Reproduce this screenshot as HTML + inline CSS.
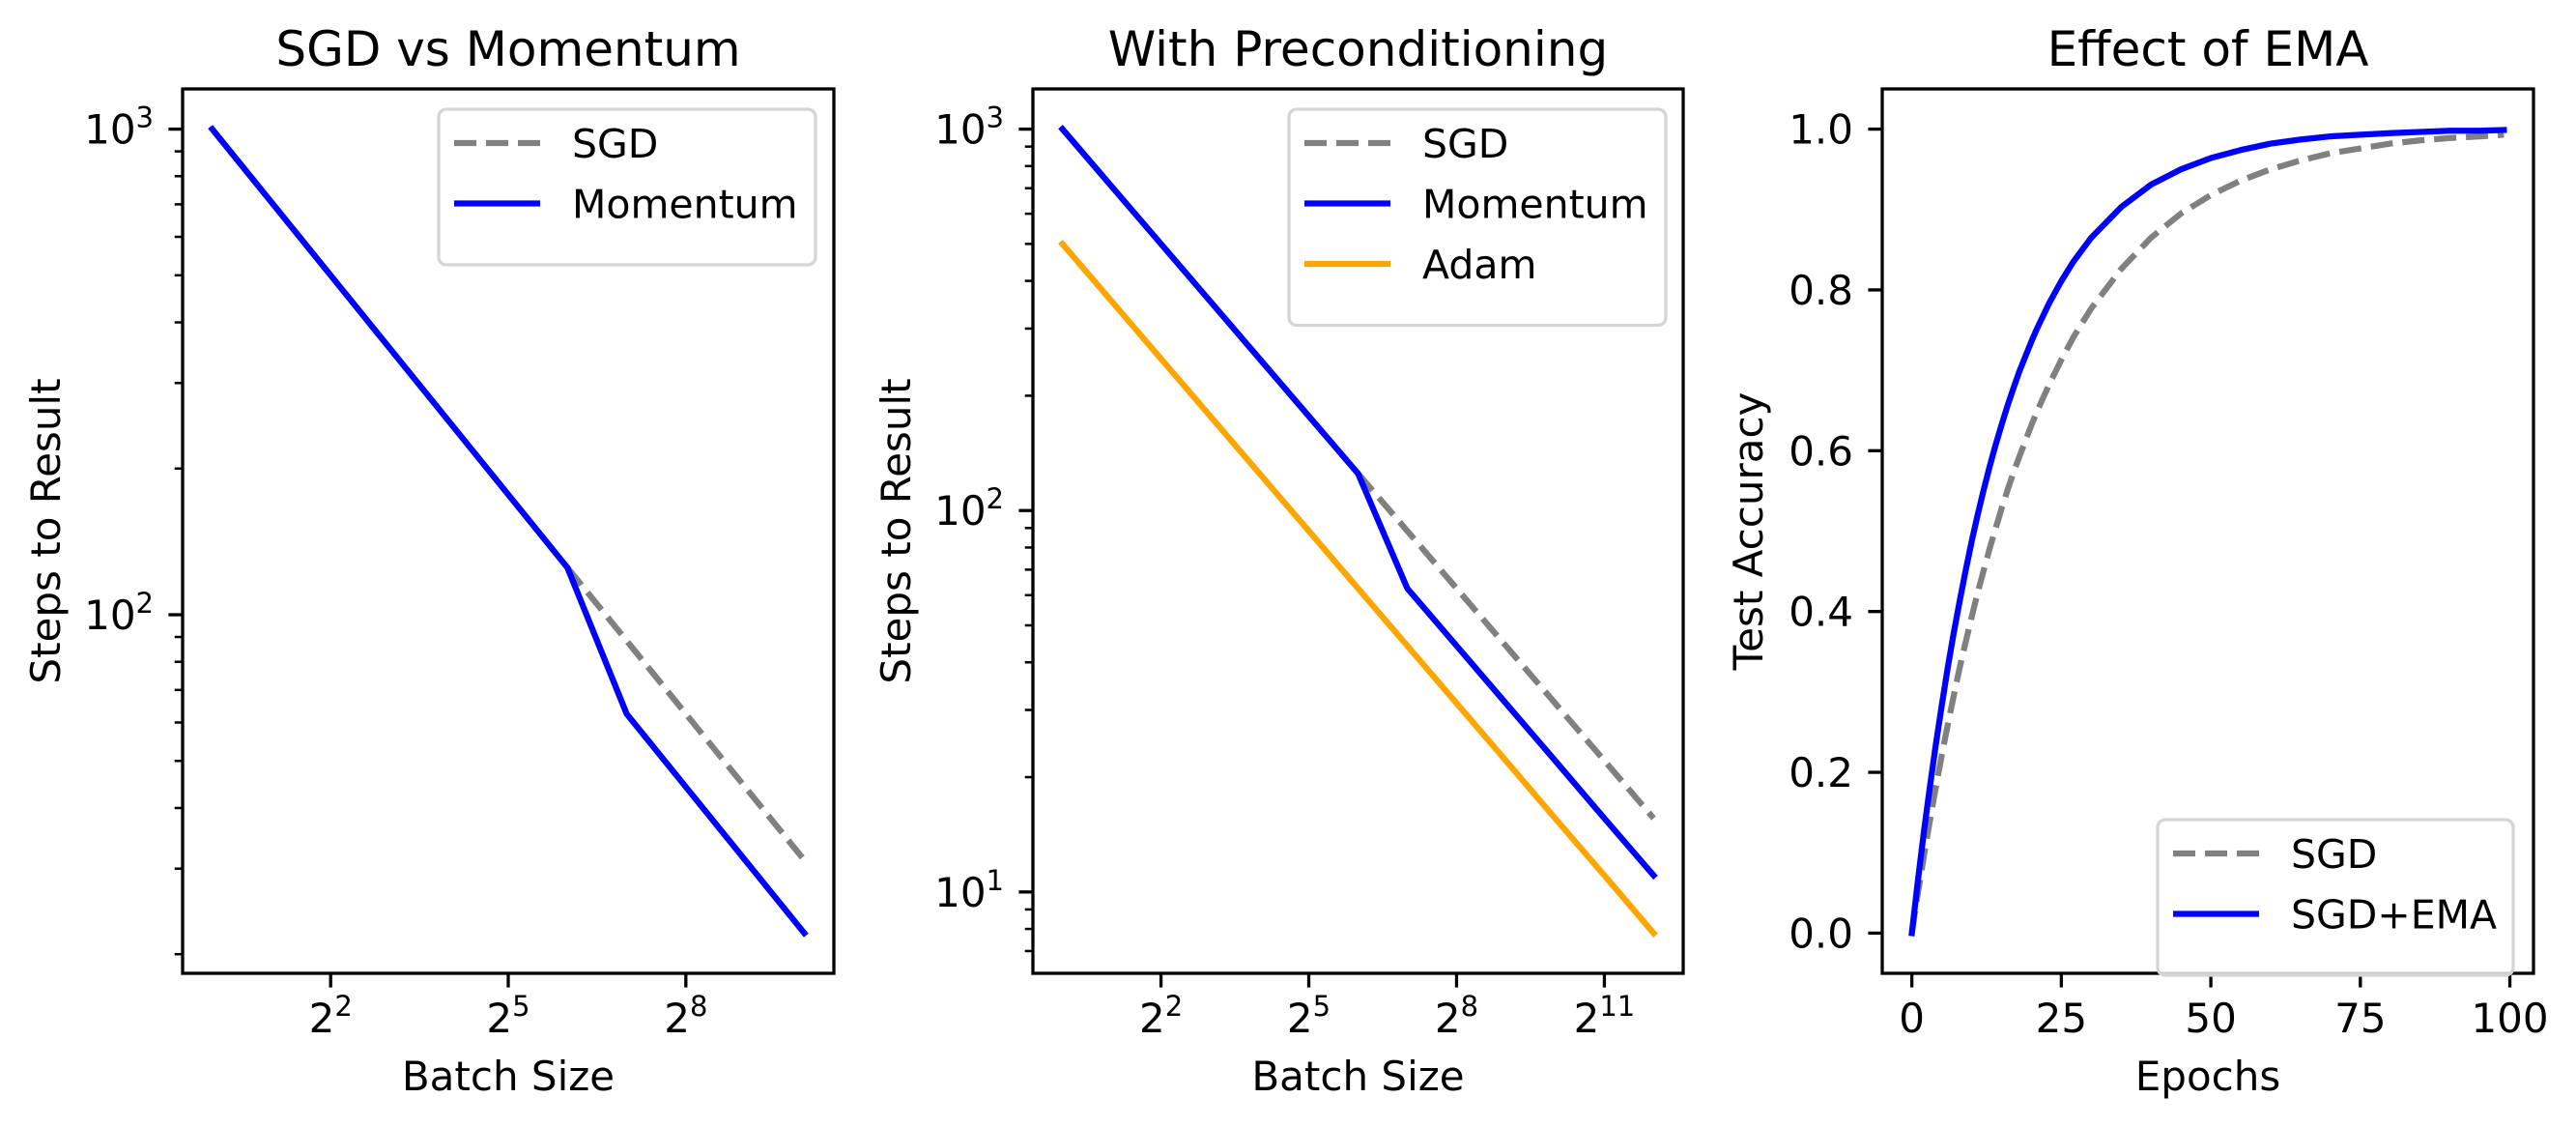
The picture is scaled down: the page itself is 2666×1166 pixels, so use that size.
<!DOCTYPE html>
<html><head><meta charset="utf-8"><style>
html,body{margin:0;padding:0;background:#fff;}
svg{display:block;font-family:"DejaVu Sans","Liberation Sans",sans-serif;}
</style></head><body>
<svg id="fig" width="2666" height="1166" viewBox="0 0 2666 1166" xmlns="http://www.w3.org/2000/svg"></svg>
<script>
// ---- data ----
const batchSizes1 = [1,2,4,8,16,32,64,128,256,512,1024];
const sgd1 = [1000,707.1,500,353.6,250,176.8,125,88.4,62.5,44.2,31.25];
const momentum1 = [1000,707.1,500,353.6,250,176.8,125,62.5,44.2,31.25,22.1];
const batchSizes2 = [1,2,4,8,16,32,64,128,256,512,1024,2048,4096];
const sgd2 = [1000,707.1,500,353.6,250,176.8,125,88.4,62.5,44.2,31.25,22.1,15.6];
const momentum2 = [1000,707.1,500,353.6,250,176.8,125,62.5,44.2,31.25,22.1,15.6,11.05];
const adam2 = [500,353.6,250,176.8,125,88.4,62.5,44.2,31.25,22.1,15.6,11.05,7.8];
const epochs = [0,1,2,3,4,5,6,7,8,9,10,11,12,13,14,15,16,17,18,20,21,23,25,27,30,35,40,45,50,55,60,65,70,75,80,85,90,95,99];
const sgdAcc = [0,.049,.095,.139,.181,.221,.259,.295,.330,.362,.393,.423,.451,.478,.503,.528,.551,.573,.593,.632,.650,.683,.713,.741,.777,.826,.865,.895,.918,.936,.950,.961,.970,.976,.982,.986,.989,.991,.993];
const emaAcc = [0,.0645,.125,.181,.234,.283,.330,.373,.413,.451,.487,.520,.551,.580,.607,.632,.656,.678,.699,.736,.753,.784,.811,.835,.865,.903,.931,.950,.964,.974,.982,.987,.991,.993,.995,.9965,.998,.998,.999];
const xTicks1 = [2,5,8];
const xTicks2 = [2,5,8,11];
const yTicks1 = [2,3];
const yTicks2 = [1,2,3];
const xTicks3 = [0,25,50,75,100];
const yTicks3 = [0,0.2,0.4,0.6,0.8,1.0];

const NS = "http://www.w3.org/2000/svg";
const svg = document.getElementById('fig');
function el(tag, attrs, parent, text){
  const e = document.createElementNS(NS, tag);
  for (const k in attrs) e.setAttribute(k, attrs[k]);
  if (text !== undefined) e.textContent = text;
  (parent||svg).appendChild(e);
  return e;
}
const TOP=92, BOT=1007;
function scaleLin(d0,d1,r0,r1){return v=>r0+(v-d0)/(d1-d0)*(r1-r0);}
function logMargin(minV,maxV,logf){const a=logf(minV),b=logf(maxV),m=(b-a)*0.05;return [a-m,b+m];}

function frame(g,L,R){
  const r = el('rect',{x:L,y:TOP,width:R-L,height:BOT-TOP,fill:'none',stroke:'#000','stroke-width':3.3},g);
  
  
}
function poly(g,xs,ys,fx,fy,color,dash,name){
  const pts = xs.map((x,i)=>fx(x).toFixed(2)+','+fy(ys[i]).toFixed(2)).join(' ');
  const p = el('polyline',{points:pts,fill:'none',stroke:color,'stroke-width':6.25,'stroke-linejoin':'round','stroke-linecap':dash?'butt':'square'},g);
  if(dash) p.setAttribute('stroke-dasharray','23 10');
  
  
}
function tickX(g,x,len){el('line',{x1:x,x2:x,y1:BOT,y2:BOT+len,stroke:'#000','stroke-width':3.3},g);}
function tickY(g,L,y,len){el('line',{x1:L-len,x2:L,y1:y,y2:y,stroke:'#000','stroke-width':len>10?3.3:2.5},g);}
function powLabel(g,x,y,base,exp,anchor,name){
  const t = el('text',{x:x,y:y,'font-size':42,'text-anchor':anchor},g);
  el('tspan',{},t,base);
  el('tspan',{dy:-17,'font-size':29},t,exp);
  
  
}
function title(g,cx,txt){const t=el('text',{x:cx,y:68,'font-size':50,'text-anchor':'middle'},g,txt);}
function xlabel(g,cx,txt){const t=el('text',{x:cx,y:1128,'font-size':42,'text-anchor':'middle'},g,txt);}
function ylabel(g,x,txt){const t=el('text',{x:0,y:0,'font-size':42,'text-anchor':'middle',transform:`translate(${x},${(TOP+BOT)/2}) rotate(-90)`},g,txt);}
function legend(g,x0,y0,w,entries){
  const h = 36+entries.length*62.5;
  const r = el('rect',{x:x0,y:y0,width:w,height:h,rx:8,fill:'#fff','fill-opacity':0.8,stroke:'#d5d5d5','stroke-width':3.3},g);
  
  
  entries.forEach((e,i)=>{
    const cy = y0+35+i*62.5;
    const ln = el('line',{x1:x0+16,x2:x0+105,y1:cy,y2:cy,stroke:e.color,'stroke-width':6.25},g);
    if(e.dash) ln.setAttribute('stroke-dasharray','23 10');
    
    
    const t = el('text',{x:x0+138,y:cy+15,'font-size':41},g,e.label);
    
    
  });
}
function logPanel(L,R,bs,series,xt,yt,name,ttl,ylx,leg){
  const g = el('g',{});
  
  
  const l2 = bs.map(Math.log2);
  const xm = (Math.max(...l2)-Math.min(...l2))*0.05;
  const fx0 = scaleLin(Math.min(...l2)-xm, Math.max(...l2)+xm, L, R);
  const fx = b=>fx0(Math.log2(b));
  let all=[]; series.forEach(s=>all=all.concat(s.ys));
  const [ya,yb] = logMargin(Math.min(...all),Math.max(...all),Math.log10);
  const fy0 = scaleLin(ya,yb,BOT,TOP);
  const fy = v=>fy0(Math.log10(v));
  series.forEach(s=>{
    const xs = s.start? bs.slice(s.start): bs;
    const ys = s.start? s.ys.slice(s.start): s.ys;
    poly(g,xs,ys,fx,fy,s.color,s.dash,s.name);
  });
  frame(g,L,R);
  xt.forEach(e=>{const x=fx0(e);tickX(g,x,14.6);powLabel(g,x,1068,'2',e,'middle','x-tick-label');});
  for(let d=Math.floor(ya);d<=Math.ceil(yb);d++){
    for(let m=2;m<=9;m++){const v=Math.log10(m)+d;if(v>ya&&v<yb)tickY(g,L,fy0(v),8.3);}
  }
  yt.forEach(e=>{const y=fy0(e);tickY(g,L,y,14.6);powLabel(g,L-30,y+15,'10',e,'end','y-tick-label');});
  title(g,(L+R)/2,ttl); xlabel(g,(L+R)/2,'Batch Size'); ylabel(g,ylx,'Steps to Result');
  legend(g,leg[0],113,leg[1],series.map(s=>({label:s.label,color:s.color,dash:s.dash})));
}
logPanel(189,863,batchSizes1,[
  {ys:sgd1,color:'#808080',dash:true,start:6,name:'sgd-line',label:'SGD'},
  {ys:momentum1,color:'#0000ff',dash:false,name:'momentum-line',label:'Momentum'}],
  xTicks1,yTicks1,'panel-sgd-vs-momentum','SGD vs Momentum',62,[454,390]);
logPanel(1069,1742,batchSizes2,[
  {ys:sgd2,color:'#808080',dash:true,start:6,name:'sgd-line',label:'SGD'},
  {ys:momentum2,color:'#0000ff',dash:false,name:'momentum-line',label:'Momentum'},
  {ys:adam2,color:'#ffa500',dash:false,name:'adam-line',label:'Adam'}],
  xTicks2,yTicks2,'panel-preconditioning','With Preconditioning',942,[1334,390]);

// panel 3
(function(){
  const L=1948,R=2622;
  const g = el('g',{});
  
  
  const fx = scaleLin(-4.95,103.95,L,R);
  const fy = scaleLin(-0.05,1.05,BOT,TOP);
  poly(g,epochs,sgdAcc,fx,fy,'#808080',true,'sgd-line');
  poly(g,epochs,emaAcc,fx,fy,'#0000ff',false,'sgd-ema-line');
  frame(g,L,R);
  xTicks3.forEach(v=>{const x=fx(v);tickX(g,x,14.6);const t=el('text',{x:x,y:1068,'font-size':42,'text-anchor':'middle'},g,String(v));});
  yTicks3.forEach(v=>{const y=fy(v);tickY(g,L,y,14.6);const t=el('text',{x:L-30,y:y+15,'font-size':42,'text-anchor':'end'},g,v.toFixed(1));});
  title(g,(L+R)/2,'Effect of EMA'); xlabel(g,(L+R)/2,'Epochs'); ylabel(g,1824,'Test Accuracy');
  legend(g,2233,848,368,[{label:'SGD',color:'#808080',dash:true},{label:'SGD+EMA',color:'#0000ff',dash:false}]);
})();
</script>
</body></html>
